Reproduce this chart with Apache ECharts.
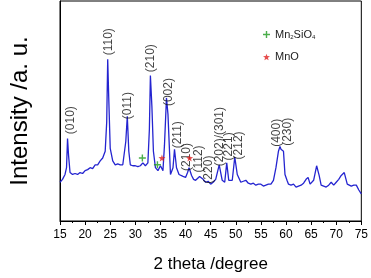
<!DOCTYPE html>
<html>
<head>
  <meta charset="utf-8">
  <title>XRD</title>
  <script src="https://cdn.jsdelivr.net/npm/echarts@6/dist/echarts.min.js"></script>
  <style>html,body{margin:0;padding:0;background:#fff;}</style>
</head>
<body>
<div id="main" style="width: 371px;height:278px;"></div>
<script type="text/javascript">
  // XRD pattern (intensity in arbitrary units)
  var twoTheta = [15, 15.5, 16, 16.3, 16.5, 16.7, 17, 17.5, 18, 18.5, 19, 19.5, 20, 20.5, 21, 21.5, 22, 22.5, 23, 23.5,
    24, 24.3, 24.5, 24.7, 25, 25.5, 26, 26.5, 27, 27.5, 27.8, 28.1, 28.4, 28.7, 29, 29.5, 30, 30.5, 31, 31.5,
    32, 32.5, 32.8, 33, 33.3, 33.6, 34, 34.5, 35, 35.5, 35.8, 36.2, 36.5, 36.7, 37, 37.5, 37.8, 38.2, 38.7, 39,
    39.5, 40, 40.4, 40.7, 41.2, 41.6, 42, 42.8, 43.5, 44, 44.5, 45, 45.5, 46, 46.7, 47.3, 47.8, 48.2, 48.6, 49.3,
    49.8, 50.3, 51, 51.5, 52, 52.5, 53, 53.5, 54, 54.5, 55, 55.5, 56, 56.5, 57, 57.5, 58, 58.5, 58.8, 59,
    59.2, 59.5, 59.8, 60.2, 60.5, 61, 61.5, 62, 62.5, 63, 63.5, 64, 64.4, 64.8, 65.5, 66.1, 66.6, 67, 67.5, 68,
    68.5, 69, 69.5, 70, 70.5, 71, 71.6, 72.2, 72.5, 73, 73.5, 74, 74.5, 75];
  var intensity = [40, 43, 48, 55, 85, 68, 50, 48, 49, 48, 50, 49, 52, 53, 55, 54, 58, 58, 62, 65,
    72, 102, 167, 128, 75, 62, 58, 59, 58, 58, 60, 82, 108, 72, 58, 57, 57, 56, 57, 60,
    57, 60, 95, 150, 118, 72, 55, 52, 57, 52, 78, 127, 110, 112, 48, 55, 74, 55, 48, 47,
    46, 45, 50, 55, 47, 43, 42, 46, 43, 40, 41, 38, 40, 43, 58, 42, 40, 60, 42, 42,
    66, 48, 40, 41, 42, 39, 38, 39, 37, 38, 38, 36, 37, 38, 38, 42, 55, 72, 77, 74,
    75, 72, 48, 42, 38, 37, 38, 35, 36, 37, 39, 43, 45, 38, 42, 57, 47, 37, 36, 35,
    37, 40, 37, 40, 43, 47, 50, 38, 37, 36, 37, 37, 32, 28];

  // hkl labels: position (2 theta) and height of label centre
  var hklNames = ['(010)', '(110)', '(011)', '(210)', '(002)', '(211)', '(210)', '(112)', '(220)',
    '(202)/(301)', '(221)', '(212)', '(400)', '(230)'];
  var hklX = [17.2, 24.6, 28.5, 33.0, 36.7, 38.4, 40.2, 42.7, 44.7, 46.7, 48.6, 50.6, 58.1, 60.4];
  var hklY = [104, 185, 119, 168, 133, 89, 66, 64, 53, 87, 77, 78, 91, 92];

  // impurity markers
  var mn2sio4X = [31.4, 34.4];
  var mn2sio4Y = [65, 58];
  var mnoX = [35.3, 40.8];
  var mnoY = [65, 65];

  function pairs(xs, ys) {
    return xs.map(function (x, i) { return [x, ys[i]]; });
  }

  var font = 'Arial, "Liberation Sans", sans-serif';
  var plusPath = 'path://M4,0H6V4H10V6H6V10H4V6H0V4H4Z';
  var starPath = 'path://M5,0L6.2,3.5L10,3.6L7,6L8.1,9.6L5,7.5L1.9,9.6L3,6L0,3.6L3.8,3.5Z';

  var myChart = echarts.init(document.getElementById('main'));
  var option = {
    animation: false,
    grid: {
      left: 54, right: 9, top: 1, bottom: 50,
      show: true, borderColor: '#000', borderWidth: 1
    },
    legend: {
      orient: 'vertical',
      left: 258, top: 24,
      itemWidth: 7, itemHeight: 7, itemGap: 11,
      data: ['Mn2SiO4', 'MnO'],
      formatter: function (name) {
        return name === 'Mn2SiO4' ? 'Mn{s|2}SiO{s|4}' : name;
      },
      textStyle: {
        fontFamily: font, fontSize: 11, color: '#222',
        rich: { s: { fontFamily: font, fontSize: 6, color: '#222', padding: [6, 0, 0, 0] } }
      }
    },
    xAxis: {
      type: 'value', min: 15, max: 75, interval: 5,
      name: '2 theta /degree', nameLocation: 'middle', nameGap: 35,
      nameTextStyle: { fontFamily: font, fontSize: 17, color: '#000' },
      axisLine: { lineStyle: { color: '#000', width: 1 } },
      axisTick: { show: true, length: 4, lineStyle: { color: '#000' } },
      minorTick: { show: true, splitNumber: 2, length: 2, lineStyle: { color: '#000' } },
      axisLabel: { fontFamily: font, fontSize: 12, color: '#000', margin: 8 },
      splitLine: { show: false }
    },
    yAxis: {
      type: 'value', min: 0, max: 227,
      name: 'Intensity /a. u.', nameLocation: 'middle', nameGap: 28,
      nameTextStyle: { fontFamily: font, fontSize: 24, color: '#000' },
      axisLine: { show: true, lineStyle: { color: '#000', width: 1 } },
      axisTick: { show: false },
      axisLabel: { show: false },
      splitLine: { show: false }
    },
    series: [
      {
        name: 'XRD', type: 'line', data: pairs(twoTheta, intensity),
        showSymbol: false, smooth: false,
        lineStyle: { color: '#2424d0', width: 1.3 },
        z: 2
      },
      {
        name: 'hkl', type: 'scatter', data: pairs(hklX, hklY),
        symbolSize: 0, silent: true,
        label: {
          show: true, position: 'inside', rotate: 90,
          formatter: function (p) { return hklNames[p.dataIndex]; },
          fontFamily: font, fontSize: 12, color: '#111'
        }
      },
      {
        name: 'Mn2SiO4', type: 'scatter', data: pairs(mn2sio4X, mn2sio4Y),
        symbol: plusPath, symbolSize: 7,
        itemStyle: { color: '#1e9a1e' }, z: 3
      },
      {
        name: 'MnO', type: 'scatter', data: pairs(mnoX, mnoY),
        symbol: starPath, symbolSize: 7,
        itemStyle: { color: '#e02020' }, z: 3
      }
    ]
  };
  myChart.setOption(option);
</script>
</body>
</html>
